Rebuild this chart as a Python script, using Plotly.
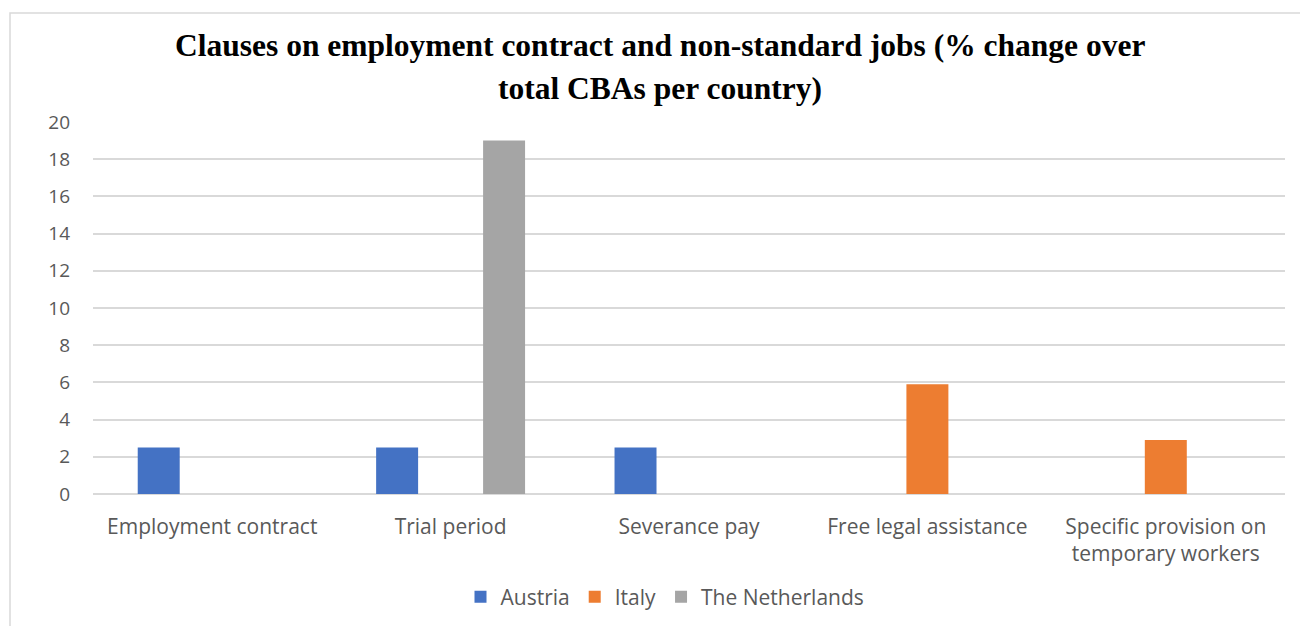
import plotly.graph_objects as go

# Clause categories and share of CBAs per country (%)
categories = ["Employment contract", "Trial period", "Severance pay",
              "Free legal assistance", "Specific provision on<br>temporary workers"]
austria = [2.5, 2.5, 2.5, None, None]
italy = [None, None, None, 5.9, 2.9]
netherlands = [None, 19, None, None, None]
y_ticks = [0, 2, 4, 6, 8, 10, 12, 14, 16, 18, 20]
title_lines = ["Clauses on employment contract and non-standard jobs (% change over",
               "total CBAs per country)"]

W, H = 1300, 626
ML, MR, MT, MB = 93, 15, 122, 132
PW, PH = W - ML - MR, H - MT - MB

fig = go.Figure()
for name, vals, color in [("Austria", austria, "#4472C4"),
                          ("Italy", italy, "#ED7D31"),
                          ("The Netherlands", netherlands, "#A5A5A5")]:
    fig.add_trace(go.Bar(name=name, x=categories, y=vals, marker_color=color,
                         marker_line_width=0))

def px_x(p):
    return (p - ML) / PW

def px_y(p):
    return (H - MB - p) / PH

# Light frame around the chart area
fig.add_shape(type="rect", xref="paper", yref="paper",
              x0=px_x(10), x1=px_x(1320), y0=px_y(640), y1=px_y(13),
              line=dict(color="#d9d9d9", width=1.5), fillcolor="rgba(0,0,0,0)",
              layer="below")

# Two-line bold serif title
for line, ypix in zip(title_lines, [46, 88]):
    fig.add_annotation(text=line, xref="paper", yref="paper",
                       x=px_x(660), y=px_y(ypix), xanchor="center", yanchor="middle",
                       showarrow=False, borderpad=0,
                       font=dict(family="Liberation Serif", size=31.5, color="black", weight="bold"))

fig.update_layout(
    width=W, height=H,
    margin=dict(l=ML, r=MR, t=MT, b=MB, autoexpand=False),
    paper_bgcolor="white", plot_bgcolor="white",
    barmode="group", bargap=0.327, bargroupgap=0.215,
    font=dict(family="Open Sans", size=21, color="#595959"),
    xaxis=dict(showgrid=False, showline=False, ticks="", tickfont=dict(size=21, color="#595959"),
               ticklabelstandoff=18, automargin=False),
    yaxis=dict(range=[0, 20], tickvals=y_ticks, showgrid=True, gridcolor="#d9d9d9",
               gridwidth=1.5, zeroline=True, zerolinecolor="#d9d9d9", zerolinewidth=1.5,
               ticks="", ticklen=0, tickfont=dict(size=19, color="#595959"),
               ticklabelstandoff=22, fixedrange=True, automargin=False),
    legend=dict(orientation="h", x=px_x(665), xanchor="center", y=px_y(597), yanchor="middle",
                font=dict(size=21, color="#595959"), itemwidth=30, traceorder="normal"),
    showlegend=True,
)

fig.write_html("out.html")
